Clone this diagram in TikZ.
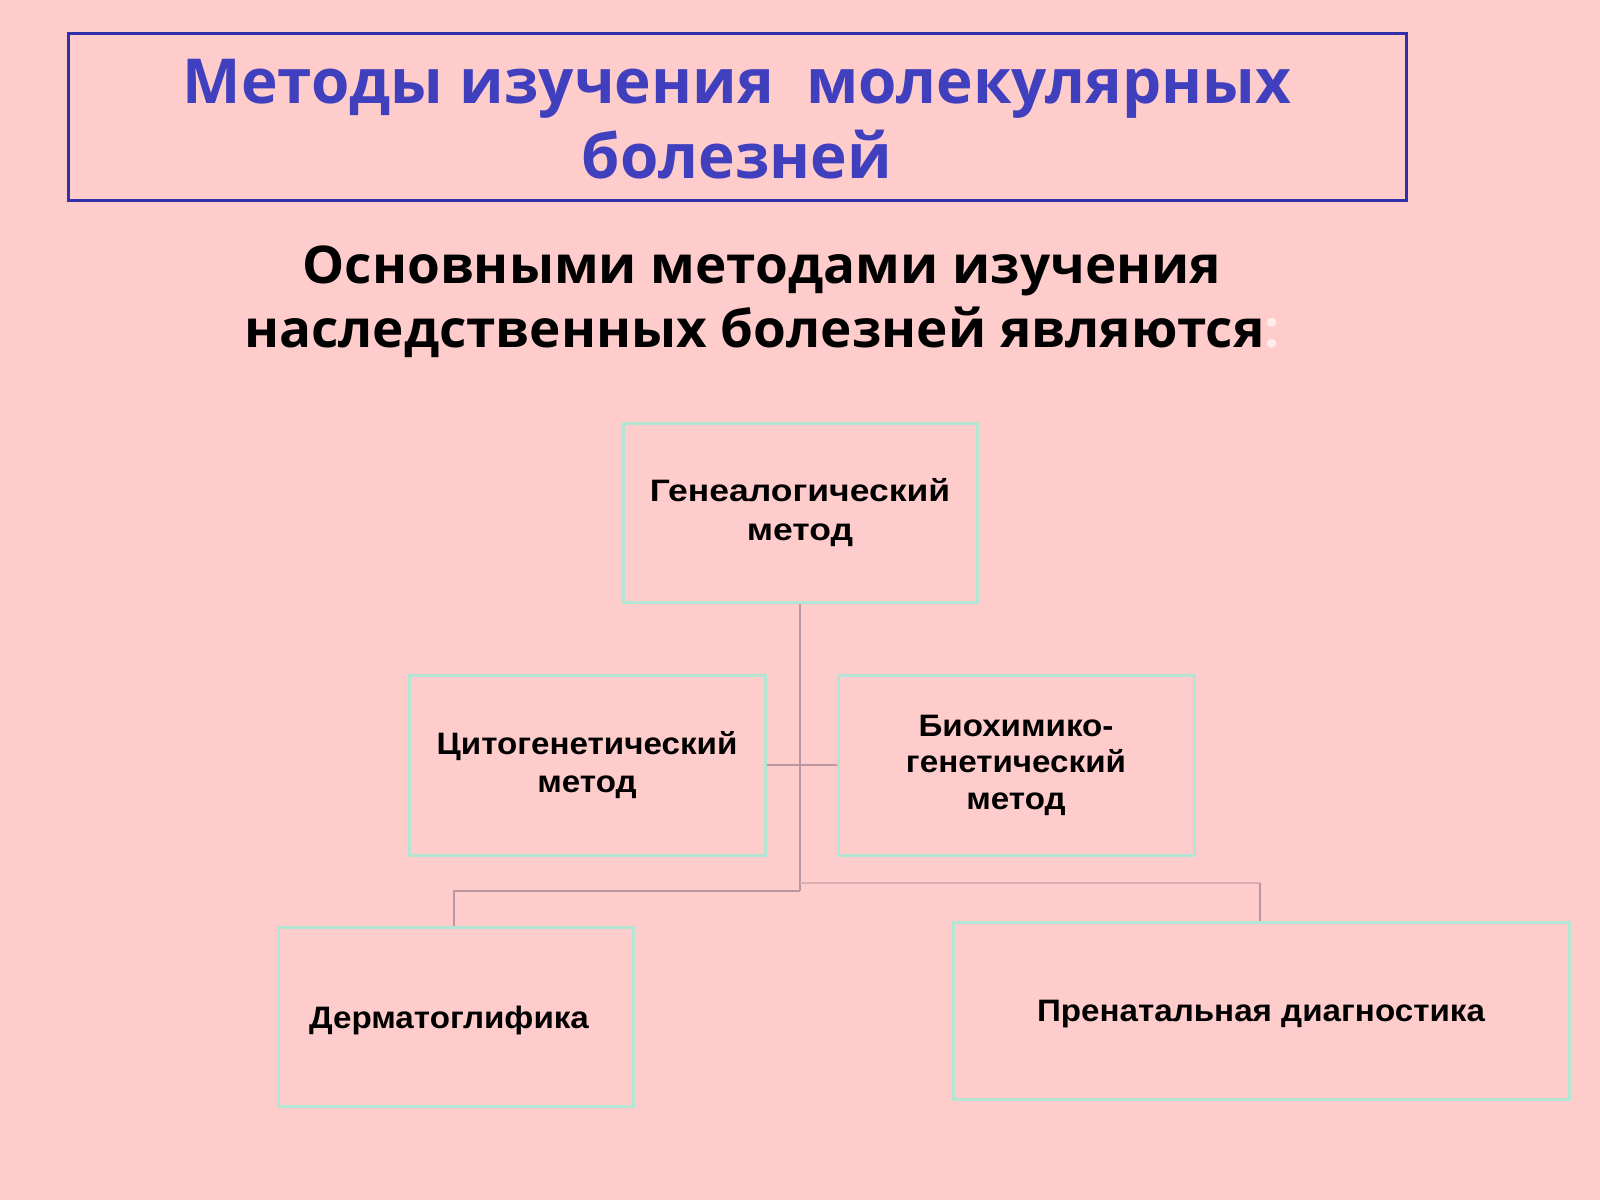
\documentclass[tikz,border=0pt]{standalone}
\usepackage{fontspec}
\setmainfont{Liberation Sans}
\newfontfamily\titlefont{Open Sans}
\newfontfamily\subfont[FakeStretch=1.02]{Open Sans}
\newfontfamily\boxfont[FakeStretch=1.07]{Liberation Sans}
\newfontfamily\genfont[FakeStretch=1.145]{Liberation Sans}
\definecolor{bgpink}{RGB}{255,204,204}
\definecolor{titleblue}{RGB}{64,64,190}
\definecolor{frameblue}{RGB}{48,48,170}
\definecolor{boxline}{RGB}{180,228,212}
\definecolor{connline}{RGB}{185,150,160}
\definecolor{colonwhite}{RGB}{255,236,236}
\tikzset{
  methodbox/.style={draw=boxline, line width=3pt, fill=bgpink, minimum height=179pt, align=center,
    font=\boxfont\bfseries\fontsize{31}{37.5}\selectfont, text=black, inner sep=0pt},
  boxtext/.style={font=\boxfont\bfseries\fontsize{31}{37.5}\selectfont, text=black},
  conn/.style={draw=connline, line width=1.2pt},
  connlight/.style={draw=connline!55!bgpink, line width=2pt},
}
\begin{document}
\begin{tikzpicture}[x=1pt,y=-1pt]
\fill[bgpink] (0,0) rectangle (1600,1200);
\useasboundingbox (0,0) rectangle (1600,1200);

% title frame
\node[draw=frameblue, line width=3pt, minimum width=1338pt, minimum height=167pt, inner sep=0pt] (frame) at (737,116.5) {};
\node[font=\titlefont\bfseries\fontsize{62}{75}\selectfont, text=titleblue, align=center] (title) at (737,119.5)
  {Методы изучения\ \ молекулярных\\болезней};

% subtitle
\node[font=\subfont\bfseries\fontsize{52}{64}\selectfont, text=black, align=center] (subtitle) at (762,302)
  {Основными методами изучения\\наследственных болезней являются\textcolor{colonwhite}{:}};

% boxes
\node[methodbox, minimum width=354pt, font=\genfont\bfseries\fontsize{31}{38.5}\selectfont] (gen) at (800,512.5) {Генеалогический\\метод};
\node[methodbox, minimum width=356pt, minimum height=180pt] (cyto) at (587,765) {Цитогенетический\\метод};
\node[methodbox, minimum width=356pt, minimum height=180pt, font=\boxfont\bfseries\fontsize{31}{36.5}\selectfont] (bio) at (1016,765) {Биохимико-\\генетический\\метод};
\node[methodbox, minimum width=355pt] (derm) at (455.5,1016.5) {};
\node[boxtext] (dermtext) at (449,1020.5) {Дерматоглифика};
\node[methodbox, minimum width=616pt, minimum height=177pt] (pren) at (1261,1010.5) {};
\node[boxtext] (prentext) at (1261,1014.5) {Пренатальная диагностика};

% connectors
\coordinate (jl) at (800,891);
\coordinate (jr) at (800,883);
\coordinate (dl) at (454,891);
\coordinate (pr) at (1260,883);
\draw[conn] (gen.south) -- (jl);
\draw[conn] (cyto.east) -- (bio.west);
\draw[conn] (jl) -- (dl) -- (dl |- derm.north);
\draw[connlight] (jr) -- (pr);
\draw[conn] (pr) -- (pr |- pren.north);
\end{tikzpicture}
\end{document}
